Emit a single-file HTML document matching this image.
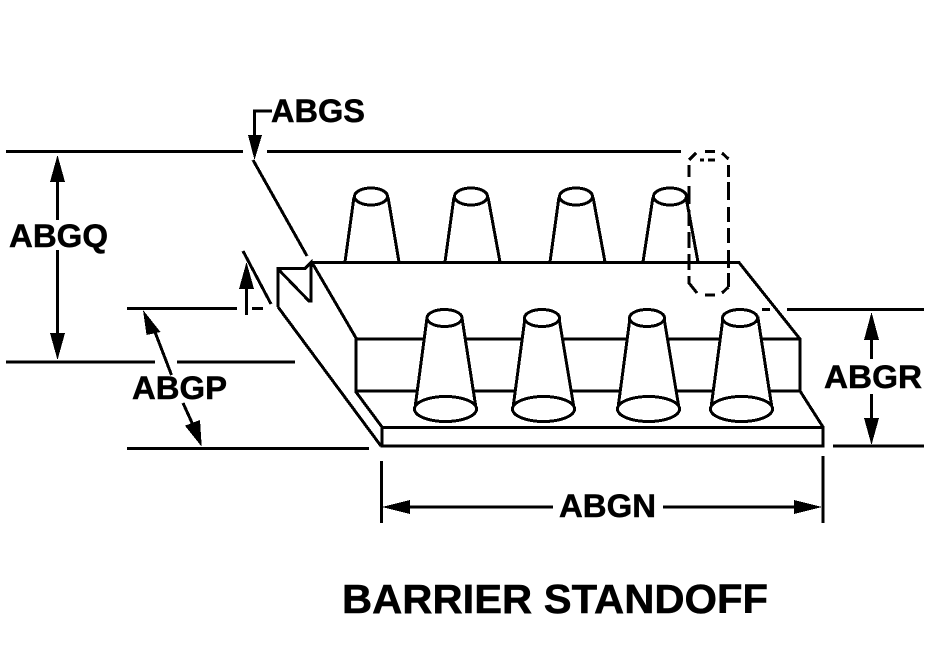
<!DOCTYPE html>
<html>
<head>
<meta charset="utf-8">
<style>
html,body{margin:0;padding:0;background:#fff;width:931px;height:672px;overflow:hidden}
svg{display:block}
text{font-family:"Liberation Sans",Arial,sans-serif;font-weight:bold;fill:#000;stroke:#000;stroke-width:.5px}
.l{fill:none;stroke:#000;stroke-width:3;stroke-linejoin:miter}
.c{fill:#fff;stroke:#000;stroke-width:3}
path,ellipse{shape-rendering:crispEdges}
</style>
</head>
<body>
<svg width="931" height="672" viewBox="0 0 931 672" xmlns="http://www.w3.org/2000/svg">
<rect width="931" height="672" fill="#fff"/>

<!-- body -->
<path class="l" d="M311 262.5H739L800 339V391L823 427V446H382V427L356 392V338L312 262.5"/>
<path class="l" d="M356 339H800M356 391H800M382 427.5H823"/>
<path class="l" d="M278 307V268.5H305L311 262.5V301L309 301L278 269M278 307L381 446"/>

<!-- back cones -->
<g class="l">
<path d="M354 197L345 262M388 197L399 262"/>
<path d="M454 197L445 262M488 197L500 262"/>
<path d="M559 197L550 262M593 197L605 262"/>
<path d="M653 197L643 262M686 197L698 262"/>
</g>
<ellipse class="l" cx="371" cy="196.5" rx="16.5" ry="8.500"/>
<ellipse class="l" cx="471" cy="196.5" rx="16.5" ry="8.500"/>
<ellipse class="l" cx="576" cy="196.5" rx="16.5" ry="8.500"/>
<ellipse class="l" cx="670" cy="196.5" rx="16.5" ry="8.500"/>

<!-- front cones -->
<path class="c" d="M427 318L415 408H476L462 318Z"/>
<path class="c" d="M525 318L513 408H574L559 318Z"/>
<path class="c" d="M630 318L618 408H679L664 318Z"/>
<path class="c" d="M723 318L711 408H772L758 318Z"/>
<ellipse class="c" cx="444.5" cy="318" rx="17.5" ry="8.500"/>
<ellipse class="c" cx="542" cy="318" rx="17.5" ry="8.500"/>
<ellipse class="c" cx="647" cy="318" rx="17.5" ry="8.500"/>
<ellipse class="c" cx="740" cy="318" rx="17.5" ry="8.500"/>
<ellipse class="c" cx="445.5" cy="409" rx="31" ry="12.500"/>
<ellipse class="c" cx="543.5" cy="409" rx="31" ry="12.500"/>
<ellipse class="c" cx="648.5" cy="409" rx="31" ry="12.500"/>
<ellipse class="c" cx="741.5" cy="409" rx="31" ry="12.500"/>

<!-- dashed pin -->
<path class="l" d="M689 160L696 153M705 151.5H715M722 153L728.500 159M700 160H704M708 160H715"/>
<path class="l" d="M689 165V177M689 186V204M689 210V226M689 232V248M689 254V270M689 276V283L697 293M705 295H715M722 293L728.500 287"/>
<path class="l" d="M728.5 165V177M728.5 182V200M728.5 207V222M728.5 228V243M728.5 250V268M728.5 273V287"/>

<!-- extension lines -->
<path class="l" d="M6 151.5H243M267 151.5H681"/>
<path class="l" d="M6 362H155M177 362H295"/>
<path class="l" d="M127 308.5H237M252 308.5H263"/>
<path class="l" d="M127 448.5H369"/>
<path class="l" d="M787 309.5H924M762 309.5H770"/>
<path class="l" d="M833 446H924"/>
<path class="l" d="M381.5 461V523M823 456V523"/>

<!-- ABGS leader -->
<path class="l" d="M272 111H254.500V140"/>
<path d="M248 135H262L254.500 160Z"/>
<path class="l" d="M253 160L307 256"/>

<!-- small arrow -->
<path class="l" d="M246.500 285V315"/>
<path d="M246.500 262L254 289H239Z"/>
<path class="l" d="M243 251L271 304"/>

<!-- ABGQ arrow -->
<path class="l" d="M57.500 178V220M57.500 250V336"/>
<path d="M57.500 155L65 182H50Z"/>
<path d="M57.500 360L65 333H50Z"/>

<!-- ABGP arrow -->
<path class="l" d="M155 332L171.500 375M183 403L193 425"/>
<path d="M143 310L160.500 332L146.500 335Z"/>
<path d="M201.700 446.700L185 425.700L200 420Z"/>

<!-- ABGR arrow -->
<path class="l" d="M871.500 336V359M871.500 394V420"/>
<path d="M871.500 312L879 340H864Z"/>
<path d="M871.500 445L879 418H864Z"/>

<!-- ABGN arrow -->
<path class="l" d="M406 507H553M663 507H798"/>
<path d="M382 507L410 500V514Z"/>
<path d="M822 507L794 500V514Z"/>

<!-- labels -->
<text x="271" y="122" font-size="32" textLength="94" lengthAdjust="spacingAndGlyphs">ABGS</text>
<text x="9" y="247" font-size="32" textLength="99" lengthAdjust="spacingAndGlyphs">ABGQ</text>
<text x="132" y="399" font-size="32" textLength="95" lengthAdjust="spacingAndGlyphs">ABGP</text>
<text x="824" y="388" font-size="32" textLength="98" lengthAdjust="spacingAndGlyphs">ABGR</text>
<text x="559" y="517" font-size="32" textLength="97" lengthAdjust="spacingAndGlyphs">ABGN</text>
<text x="342" y="613" font-size="41" textLength="426" lengthAdjust="spacingAndGlyphs">BARRIER STANDOFF</text>
</svg>
</body>
</html>
